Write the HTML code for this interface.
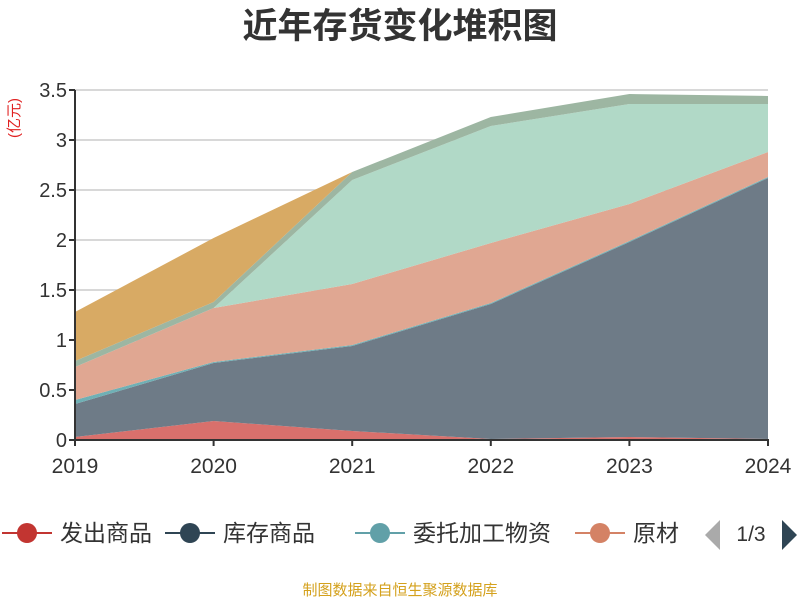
<!DOCTYPE html>
<html><head><meta charset="utf-8"><style>
body{margin:0;background:#fff;font-family:"Liberation Sans","Noto Sans CJK SC",sans-serif;}
svg text{font-family:"Liberation Sans","Noto Sans CJK SC",sans-serif;}
</style></head><body>
<svg id="c" width="800" height="600">
<text x="400" y="38" text-anchor="middle" font-size="35" font-weight="bold" fill="#333">近年存货变化堆积图</text>
<text transform="translate(19,118) rotate(-90)" text-anchor="middle" font-size="15" fill="#e02020">(亿元)</text>
<g id="grid"></g><g id="areas"></g><g id="axes"></g>
<g id="legend"></g>
<text x="400" y="595" text-anchor="middle" font-size="15" fill="#d4a11d">制图数据来自恒生聚源数据库</text>
</svg>
<script>
const categories=['2019','2020','2021','2022','2023','2024'];
const seriesNames=['发出商品','库存商品','委托加工物资','原材料','在产品','周转材料','半成品'];
const s0=[0.03,0.19,0.09,0.01,0.03,0.01];
const s1=[0.33,0.58,0.85,1.35,1.95,2.61];
const s2=[0.04,0.01,0.01,0.01,0.01,0.01];
const s3=[0.33,0.54,0.61,0.60,0.37,0.25];
const s4=[0,0,1.04,1.17,1.00,0.48];
const s5=[0.06,0.06,0.08,0.09,0.10,0.08];
const s6=[0.49,0.64,0,0,0,0];
const yTicks=[0,0.5,1,1.5,2,2.5,3,3.5];
const yTickLabels=['0','0.5','1','1.5','2','2.5','3','3.5'];
const series=[s0,s1,s2,s3,s4,s5,s6];
const colors=['#d9706c','#6e7b87','#6fb0b5','#e0a792','#b1d9c7','#9db6a2','#d8aa64'];
const lineColors=['#c23531','#2f4554','#61a0a8','#d48265','#91c7ae','#749f83','#ca8622'];
const NS='http://www.w3.org/2000/svg';
const X0=75,X1=768,Y0=440,Y1=90,YMAX=3.5;
const xs=i=>X0+(X1-X0)*i/(categories.length-1);
const ys=v=>Y0-(Y0-Y1)*v/YMAX;
function mk(t,a,p){const e=document.createElementNS(NS,t);for(const k in a)e.setAttribute(k,a[k]);p.appendChild(e);return e;}
const grid=document.getElementById('grid'),axes=document.getElementById('axes'),areas=document.getElementById('areas'),leg=document.getElementById('legend');
yTicks.forEach((v,i)=>{
 const l=mk('line',{x1:X0,x2:X1,y1:ys(v),y2:ys(v),stroke:'#ccc','stroke-width':1.5},grid);
 
 
 mk('line',{x1:X0-6,x2:X0,y1:ys(v),y2:ys(v),stroke:'#333','stroke-width':2},axes);
 const t=mk('text',{x:X0-8,y:ys(v)+7,'text-anchor':'end','font-size':20,fill:'#333'},axes);
 t.textContent=yTickLabels[i];
 
 
});
let cum=categories.map(()=>0);
series.forEach((s,k)=>{
 const lo=cum.slice();cum=cum.map((c,i)=>c+s[i]);
 let d='';cum.forEach((c,i)=>d+=(i?'L':'M')+xs(i)+','+ys(c));
 for(let i=lo.length-1;i>=0;i--)d+='L'+xs(i)+','+ys(lo[i]);
 const p=mk('path',{d:d+'Z',fill:colors[k],stroke:'none'},areas);
 
 
});
mk('line',{x1:X0,x2:X0,y1:Y1,y2:Y0,stroke:'#333','stroke-width':2},axes);
mk('line',{x1:X0,x2:X1+1,y1:Y0,y2:Y0,stroke:'#333','stroke-width':2},axes);
categories.forEach((c,i)=>{
 mk('line',{x1:xs(i),x2:xs(i),y1:Y0,y2:Y0+6,stroke:'#333','stroke-width':2},axes);
 const t=mk('text',{x:xs(i),y:473,'text-anchor':'middle','font-size':21,fill:'#333'},axes);
 t.textContent=c;
 
 
});
const lx=[27,190,380,600];
for(let k=0;k<4;k++){
 const g=mk('g',{},leg);
 
 
 mk('line',{x1:lx[k]-25,x2:lx[k]+25,y1:533,y2:533,stroke:lineColors[k],'stroke-width':2},g);
 mk('circle',{cx:lx[k],cy:533,r:10,fill:lineColors[k]},g);
 const t=mk('text',{x:lx[k]+33,y:541,'font-size':23,fill:'#333'},g);
 t.textContent=k<3?seriesNames[k]:'原材';
}
mk('rect',{x:684,y:510,width:18,height:46,fill:'#fff'},leg);
const pa=mk('path',{d:'M720,520 L705,535 L720,550Z',fill:'#aaa'},leg);


const pt=mk('text',{x:751,y:541,'text-anchor':'middle','font-size':21,fill:'#333'},leg);
pt.textContent='1/3';


const pn=mk('path',{d:'M782,520 L797,535 L782,550Z',fill:'#2f4554'},leg);


</script>
</body></html>
